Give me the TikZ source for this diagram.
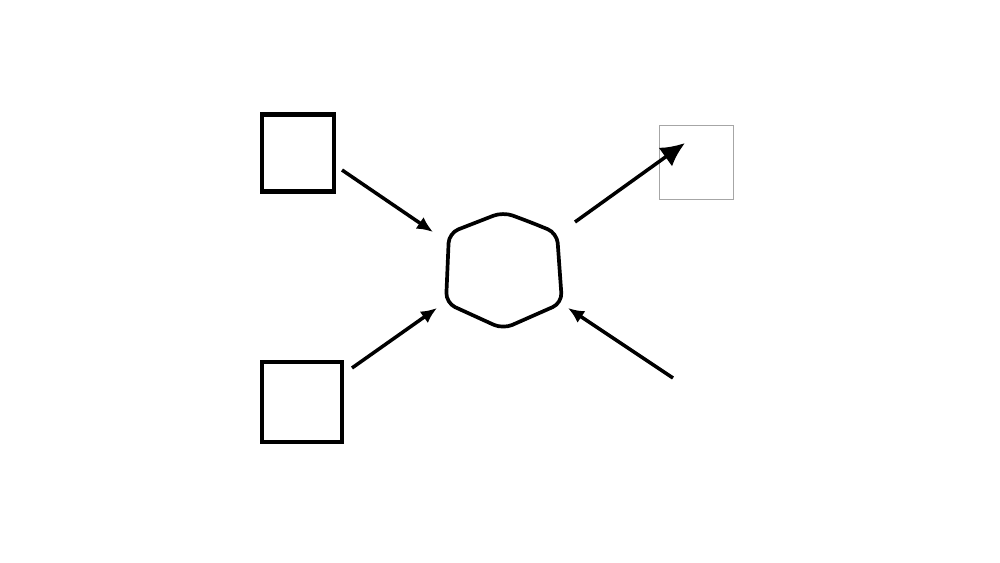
\documentclass[tikz,border=0pt]{standalone}
\usepackage{tikz}
\usetikzlibrary{positioning, arrows.meta}

\begin{document}
\begin{tikzpicture}[
    x=0.02cm, y=-0.02cm,
    box/.style={rectangle, draw, line width=2.3pt, inner sep=0pt},
    faintbox/.style={rectangle, draw=gray!70, line width=0.5pt, inner sep=0pt},
    hexline/.style={draw, line width=2.1pt, rounded corners=0.2cm},
    feed/.style={-{Latex[length=0.32cm, width=0.28cm]}, line width=2pt},
    outflow/.style={-{Latex[length=0.48cm, width=0.46cm]}, line width=2pt}
]
\useasboundingbox (0,0) rectangle (1000,563);

% Input boxes
\node[box, minimum width=1.44cm, minimum height=1.54cm] (inA) at (298,153) {};
\node[box, minimum width=1.6cm, minimum height=1.6cm] (inB) at (302,402) {};

% Output box
\node[faintbox, minimum size=1.48cm] (outC) at (696,162) {};

% Hub
\coordinate (hub) at (503,271);
\draw[hexline] (530,222) -- (557,233) -- (562,303) -- (503,329)
    -- (446,303) -- (449,233) -- (503,212) -- cycle;

% Arrow ends
\coordinate (fromA) at (342,170);
\coordinate (toA) at (433,232);
\coordinate (fromB) at (352,368);
\coordinate (toB) at (437,308);
\coordinate (fromHub) at (575,222);
\coordinate (toC) at (685,143);
\coordinate (fromD) at (673,378);
\coordinate (toD) at (568,308);

% Edges
\draw[feed] (fromA) -- (toA);
\draw[feed] (fromB) -- (toB);
\draw[feed] (fromD) -- (toD);
\draw[outflow] (fromHub) -- (toC);

\end{tikzpicture}
\end{document}
